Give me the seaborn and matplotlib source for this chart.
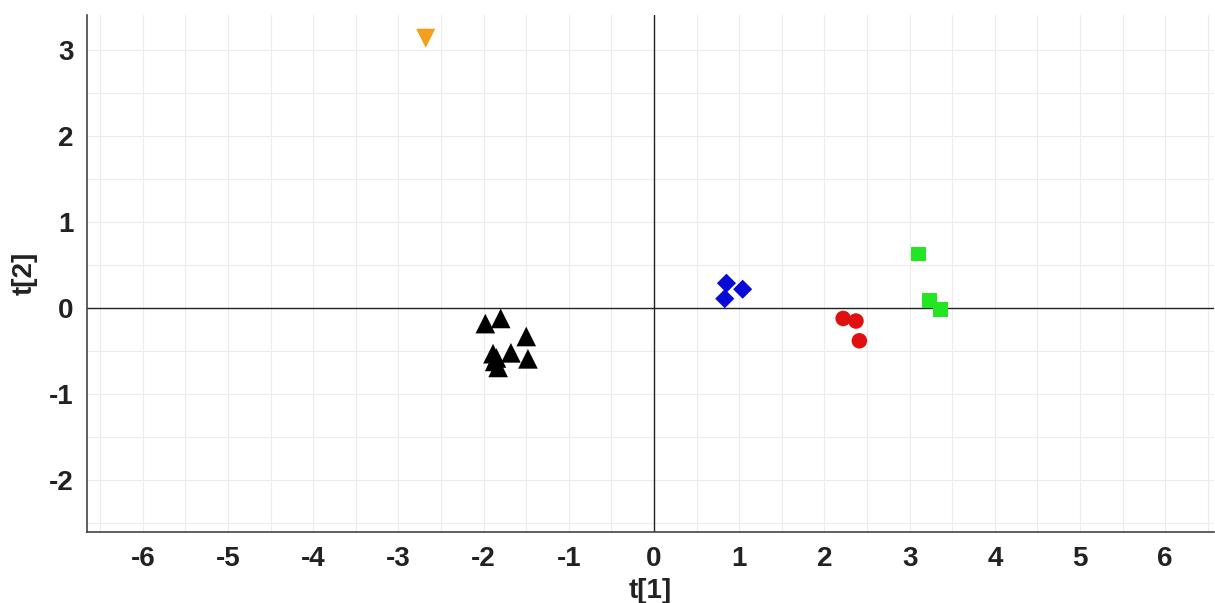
import matplotlib
matplotlib.use("Agg")
import matplotlib.pyplot as plt
import seaborn as sns
import pandas as pd
import numpy as np

# Data
orange_t1 = [-2.68]
orange_t2 = [3.14]
black_t1 = [-1.98, -1.80, -1.50, -1.68, -1.48, -1.89, -1.85, -1.87, -1.83]
black_t2 = [-0.18, -0.12, -0.33, -0.52, -0.59, -0.53, -0.58, -0.62, -0.69]
blue_t1 = [0.85, 1.04, 0.83]
blue_t2 = [0.29, 0.22, 0.11]
red_t1 = [2.22, 2.37, 2.41]
red_t2 = [-0.12, -0.15, -0.38]
green_t1 = [3.10, 3.23, 3.36]
green_t2 = [0.63, 0.09, -0.02]

groups = ["orange", "black", "blue", "red", "green"]
xticks = [-6, -5, -4, -3, -2, -1, 0, 1, 2, 3, 4, 5, 6]
yticks = [-2, -1, 0, 1, 2, 3]

df = pd.concat([
    pd.DataFrame({"t1": orange_t1, "t2": orange_t2, "group": "orange"}),
    pd.DataFrame({"t1": black_t1, "t2": black_t2, "group": "black"}),
    pd.DataFrame({"t1": blue_t1, "t2": blue_t2, "group": "blue"}),
    pd.DataFrame({"t1": red_t1, "t2": red_t2, "group": "red"}),
    pd.DataFrame({"t1": green_t1, "t2": green_t2, "group": "green"}),
], ignore_index=True)

palette = {"orange": "#F2A01E", "black": "#000000", "blue": "#0A0AD8",
           "red": "#E01010", "green": "#22E622"}
markers = {"orange": "v", "black": "^", "blue": "D", "red": "o", "green": "s"}
sizes = {"orange": 190, "black": 200, "blue": 95, "red": 125, "green": 115}

sns.set_style("white")
plt.rcParams["font.family"] = ["Liberation Sans", "DejaVu Sans"]
plt.rcParams["axes.unicode_minus"] = False

fig = plt.figure(figsize=(12.15, 6.03), dpi=100)
ax = fig.add_axes([0.072, 0.117, 0.927, 0.858])

ax.axhline(0, color="#222222", lw=1.0, zorder=1)
ax.axvline(0, color="#222222", lw=1.0, zorder=1)

sns.scatterplot(data=df, x="t1", y="t2", hue="group", style="group", size="group",
                palette=palette, markers=markers, sizes=sizes, hue_order=groups,
                style_order=groups, size_order=groups,
                linewidth=0, legend=False, ax=ax, zorder=3)

ax.set_xlim(-6.65, 6.57)
ax.set_ylim(-2.61, 3.41)
ax.set_xticks(xticks)
ax.set_yticks(yticks)
ax.set_xticks(np.arange(-6.5, 6.6, 0.5), minor=True)
ax.set_yticks(np.arange(-2.5, 3.5, 0.5), minor=True)
ax.grid(True, which="both", color="#ececec", lw=0.8, zorder=0)
ax.set_axisbelow(True)

for s in ["top", "right"]:
    ax.spines[s].set_visible(False)
for s in ["left", "bottom"]:
    ax.spines[s].set_color("#444444")
    ax.spines[s].set_linewidth(1.2)

ax.tick_params(which="both", direction="in", length=4, width=1, color="#333333")
ax.tick_params(which="major", labelsize=20, pad=10)
for lab in ax.get_xticklabels() + ax.get_yticklabels():
    lab.set_fontweight("bold")
    lab.set_color("#222222")

ax.set_xlabel("t[1]", fontsize=20, fontweight="bold", color="#222222", labelpad=4)
ax.set_ylabel("t[2]", fontsize=20, fontweight="bold", color="#222222", labelpad=8)

fig.savefig("out.png", dpi=100)
